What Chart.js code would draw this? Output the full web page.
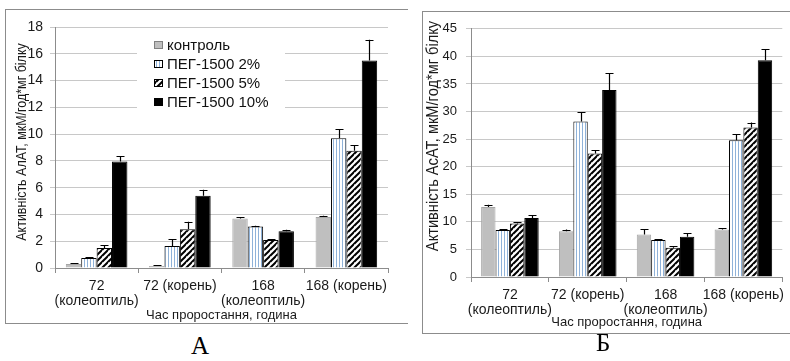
<!DOCTYPE html>
<html>
<head>
<meta charset="utf-8">
<script src="https://cdn.jsdelivr.net/npm/chart.js@4/dist/chart.umd.min.js"></script>
<style>
    body { margin: 0; background: #fff; width: 790px; height: 361px; overflow: hidden; position: relative; }
    .panel { position: absolute; border: 1px solid #8c8c8c; border-right: none; }
    #panel-a { left: 5px; top: 9px; width: 402px; height: 313px; }
    #panel-b { left: 422px; top: 11px; width: 370px; height: 321px; }
    .panel canvas { position: absolute; left: 0; top: 0; }
    .tag { position: absolute; font-family: 'Liberation Serif', 'Times New Roman', serif; font-size: 25px; color: #000; }
</style>
</head>
<body>
<div class="panel" id="panel-a"><canvas id="chart-alat" width="402" height="313"></canvas></div>
<div class="panel" id="panel-b"><canvas id="chart-asat" width="368" height="321"></canvas></div>
<div class="tag" style="left:191px; top:332px;">А</div>
<div class="tag" style="left:596px; top:329px;">Б</div>

<script>
// дані
const categories = [['72', '(колеоптиль)'], '72 (корень)', ['168', '(колеоптиль)'], '168 (корень)'];
const seriesNames = ['контроль', 'ПЕГ-1500 2%', 'ПЕГ-1500 5%', 'ПЕГ-1500 10%'];
const xTitle = 'Час проростання, година';

// А - АлАТ
const alatTitle = 'Активність АлАТ, мкМ/год*мг білку';
const alatTicks = [0, 2, 4, 6, 8, 10, 12, 14, 16, 18];
const alatControl = [0.3, 0.15, 3.7, 3.8];
const alatPeg2 = [0.75, 1.65, 3.1, 9.7];
const alatPeg5 = [1.5, 2.9, 2.1, 8.75];
const alatPeg10 = [7.95, 5.4, 2.75, 15.5];
const alatControlErr = [0.05, 0.05, 0.1, 0.1];
const alatPeg2Err = [0.05, 0.5, 0.05, 0.65];
const alatPeg5Err = [0.2, 0.55, 0.05, 0.4];
const alatPeg10Err = [0.4, 0.45, 0.1, 1.55];

// Б - АсАТ
const asatTitle = 'Активність АсАТ, мкМ/год*мг білку';
const asatTicks = [0, 5, 10, 15, 20, 25, 30, 35, 40, 45];
const asatControl = [12.7, 8.3, 7.7, 8.6];
const asatPeg2 = [8.5, 28.2, 6.7, 24.8];
const asatPeg5 = [9.7, 22.4, 5.3, 27.1];
const asatPeg10 = [10.7, 33.9, 7.3, 39.3];
const asatControlErr = [0.4, 0.3, 1.0, 0.3];
const asatPeg2Err = [0.15, 1.7, 0.1, 1.1];
const asatPeg5Err = [0.2, 0.6, 0.3, 0.9];
const asatPeg10Err = [0.5, 3.1, 0.7, 2.0];

const SANS = "'Liberation Sans', Arial, sans-serif";

function makeStripes() {
    const c = document.createElement('canvas');
    c.width = 3; c.height = 3;
    const g = c.getContext('2d');
    g.fillStyle = '#fff';
    g.fillRect(0, 0, 3, 3);
    g.fillStyle = '#8FB2D9';
    g.fillRect(0, 0, 1, 3);
    return g.createPattern(c, 'repeat');
}

function makeHatch() {
    const c = document.createElement('canvas');
    c.width = 6; c.height = 6;
    const g = c.getContext('2d');
    g.fillStyle = '#fff';
    g.fillRect(0, 0, 6, 6);
    g.strokeStyle = '#000';
    g.lineWidth = 2;
    [[-6, 6], [0, 12], [-12, 0]].forEach(([a, b]) => {
        g.beginPath();
        g.moveTo(0, b);
        g.lineTo(12, a);
        g.stroke();
    });
    return g.createPattern(c, 'repeat');
}

const fills = ['#BFBFBF', makeStripes(), makeHatch(), '#000'];
const borders = ['#A6A6A6', '#000', '#000', '#000'];

function buildDatasets(values, errors) {
    return values.map((v, i) => ({
        label: seriesNames[i],
        data: v,
        errors: errors[i],
        backgroundColor: fills[i],
        borderColor: borders[i],
        borderWidth: 1,
        barPercentage: 1,
        categoryPercentage: 0.74
    }));
}

// планки похибок (тільки вгору)
const errorBars = {
    id: 'errorBars',
    afterDatasetsDraw(chart) {
        const ctx = chart.ctx;
        const yScale = chart.scales.y;
        ctx.save();
        ctx.strokeStyle = '#000';
        ctx.lineWidth = 1.2;
        chart.data.datasets.forEach((ds, di) => {
            const meta = chart.getDatasetMeta(di);
            meta.data.forEach((bar, i) => {
                const err = ds.errors[i];
                if (!err) return;
                const yTop = yScale.getPixelForValue(ds.data[i] + err);
                const x = Math.round(bar.x) + 0.5;
                ctx.beginPath();
                ctx.moveTo(x, bar.y);
                ctx.lineTo(x, yTop);
                ctx.moveTo(x - 4, Math.round(yTop) + 0.5);
                ctx.lineTo(x + 4, Math.round(yTop) + 0.5);
                ctx.stroke();
            });
        });
        ctx.restore();
    }
};

// легенда всередині області графіка
const boxLegend = {
    id: 'boxLegend',
    afterDraw(chart, args, opts) {
        if (!opts.show) return;
        const ctx = chart.ctx;
        ctx.save();
        ctx.fillStyle = '#fff';
        ctx.fillRect(opts.x, opts.y, opts.w, opts.h);
        ctx.font = '15px ' + SANS;
        ctx.textBaseline = 'middle';
        chart.data.datasets.forEach((ds, i) => {
            const cy = opts.y + opts.first + i * opts.step;
            const sx = opts.x + 17;
            ctx.fillStyle = ds.backgroundColor;
            ctx.fillRect(sx, cy - 4, 9, 8);
            ctx.strokeStyle = i === 0 ? '#808080' : '#000';
            ctx.lineWidth = 1;
            ctx.strokeRect(sx + 0.5, cy - 3.5, 8, 7);
            ctx.fillStyle = '#111';
            ctx.fillText(ds.label, sx + 13, cy + 1);
        });
        ctx.restore();
    }
};

// назва осі Y (повернута, трохи стиснута), з заданим центром
const yTitlePlugin = {
    id: 'yTitleText',
    afterDraw(chart, args, opts) {
        const ctx = chart.ctx;
        ctx.save();
        ctx.translate(opts.cx, opts.cy);
        ctx.rotate(-Math.PI / 2);
        ctx.scale(opts.squeeze, 1);
        ctx.font = opts.size + 'px ' + SANS;
        ctx.fillStyle = '#1a1a1a';
        ctx.textAlign = 'center';
        ctx.textBaseline = 'middle';
        ctx.fillText(opts.text, 0, 0);
        ctx.restore();
    }
};

function makeChart(id, opts) {
    return new Chart(document.getElementById(id).getContext('2d'), {
        type: 'bar',
        data: { labels: categories, datasets: opts.datasets },
        options: {
            responsive: false,
            animation: false,
            layout: { padding: opts.padding },
            plugins: {
                legend: { display: false },
                tooltip: { enabled: false },
                boxLegend: opts.legend,
                yTitleText: opts.yTitle
            },
            scales: {
                x: {
                    grid: { offset: true, drawOnChartArea: false, tickLength: 5, color: '#8c8c8c' },
                    border: { color: '#8c8c8c' },
                    ticks: { color: '#1a1a1a', font: { family: SANS, size: 14, lineHeight: 1.07 }, padding: opts.xPad, maxRotation: 0, autoSkip: false },
                    title: { display: true, text: xTitle, color: '#1a1a1a', font: { family: SANS, size: 13 }, padding: { top: 0, bottom: opts.xTitlePad } },
                    afterFit: s => { s.height = opts.xHeight; }
                },
                y: {
                    min: 0,
                    max: opts.ticks[opts.ticks.length - 1],
                    afterBuildTicks: s => { s.ticks = opts.ticks.map(v => ({ value: v })); },
                    grid: { color: '#C8C8C8', tickLength: 5 },
                    border: { color: '#8c8c8c' },
                    ticks: { color: '#1a1a1a', font: { family: SANS, size: opts.yTickSize }, padding: opts.yPad },
                    afterFit: s => { s.width = opts.yWidth; }
                }
            }
        },
        plugins: [errorBars, boxLegend, yTitlePlugin]
    });
}

makeChart('chart-alat', {
    datasets: buildDatasets([alatControl, alatPeg2, alatPeg5, alatPeg10], [alatControlErr, alatPeg2Err, alatPeg5Err, alatPeg10Err]),
    ticks: alatTicks,
    yTitle: { text: alatTitle, size: 14.5, squeeze: 0.86, cx: 16, cy: 132 },
    yTickSize: 14,
    yPad: 7,
    yWidth: 49,
    xHeight: 55,
    xPad: 6,
    xTitlePad: 0,
    padding: { top: 17, right: 20, left: 0, bottom: 0 },
    legend: { show: true, x: 131, y: 25, w: 148, h: 78, first: 10, step: 19 }
});

makeChart('chart-asat', {
    datasets: buildDatasets([asatControl, asatPeg2, asatPeg5, asatPeg10], [asatControlErr, asatPeg2Err, asatPeg5Err, asatPeg10Err]),
    ticks: asatTicks,
    yTitle: { text: asatTitle, size: 17, squeeze: 0.86, cx: 10, cy: 124 },
    yTickSize: 13,
    yPad: 9,
    yWidth: 48,
    xHeight: 56,
    xPad: 6,
    xTitlePad: 3,
    padding: { top: 15, right: 8, left: 0, bottom: 0 },
    legend: { show: false }
});
</script>
</body>
</html>
